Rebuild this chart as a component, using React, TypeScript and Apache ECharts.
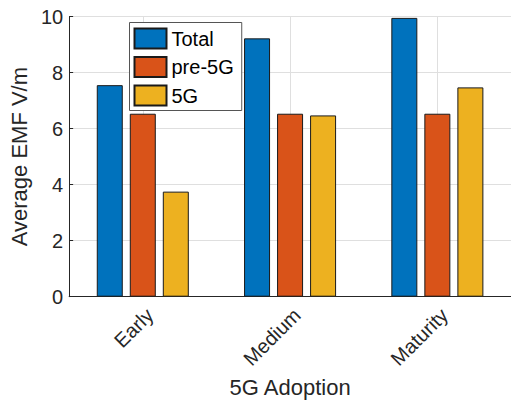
import React, { useEffect, useRef } from "react";
import * as echarts from "echarts";

const categories = ["Early", "Medium", "Maturity"];
const seriesNames = ["Total", "pre-5G", "5G"];
const totalValues = [7.55, 9.22, 9.95];
const pre5gValues = [6.53, 6.53, 6.53];
const g5Values = [3.75, 6.47, 7.47];
const colors = ["#0072BD", "#D95319", "#EDB120"];

const FONT = "'Liberation Sans', Arial, Helvetica, sans-serif";

export default function App() {
  const ref = useRef<HTMLDivElement>(null);
  useEffect(() => {
    if (!ref.current) return;
    const chart = echarts.init(ref.current, null, { renderer: "svg" });
    const values = [totalValues, pre5gValues, g5Values];
    chart.setOption({
      animation: false,
      backgroundColor: "#ffffff",
      textStyle: { fontFamily: FONT },
      grid: { left: 68.5, top: 16.5, right: -1, bottom: 110.3, containLabel: false },
      legend: {
        orient: "vertical",
        left: 129.5,
        top: 22.5,
        itemWidth: 32,
        itemHeight: 20,
        itemGap: 6.5,
        padding: [5, 8, 4, 4],
        borderColor: "#555555",
        borderWidth: 1,
        backgroundColor: "#ffffff",
        icon: "rect",
        textStyle: { fontSize: 20, color: "#000000", fontFamily: FONT, lineHeight: 20 },
        data: seriesNames,
      },
      xAxis: {
        type: "category",
        data: categories,
        name: "5G Adoption",
        nameLocation: "middle",
        nameGap: 79,
        nameTextStyle: { fontSize: 22, color: "#262626", fontFamily: FONT },
        axisLine: { lineStyle: { color: "#262626", width: 1 } },
        axisTick: { show: true, inside: true, alignWithLabel: true, length: 4, lineStyle: { color: "#262626" } },
        axisLabel: { rotate: 45, fontSize: 20, color: "#262626", margin: 8, verticalAlign: "top", fontFamily: FONT },
        splitLine: { show: true, alignWithLabel: true, lineStyle: { color: "#dfdfdf", width: 1 } },
      },
      yAxis: {
        type: "value",
        min: 0,
        max: 10,
        interval: 2,
        name: "Average EMF V/m",
        nameLocation: "middle",
        nameGap: 27,
        nameTextStyle: { fontSize: 22, color: "#262626", fontFamily: FONT },
        axisLine: { show: true, lineStyle: { color: "#262626", width: 1 } },
        axisTick: { show: true, inside: true, length: 4, lineStyle: { color: "#262626" } },
        axisLabel: { fontSize: 20, color: "#262626", margin: 6, fontFamily: FONT },
        splitLine: { show: true, lineStyle: { color: "#dfdfdf", width: 1 } },
      },
      series: seriesNames.map((name, i) => ({
        name,
        type: "bar",
        data: values[i],
        barWidth: 26,
        barGap: "27%",
        itemStyle: { color: colors[i], borderColor: "#1a1a1a", borderWidth: 1 },
      })),
    });
    return () => chart.dispose();
  }, []);
  return (
    <div
      ref={ref}
      style={{ position: "absolute", left: 0, top: 0, width: 511, height: 407 }}
    />
  );
}
